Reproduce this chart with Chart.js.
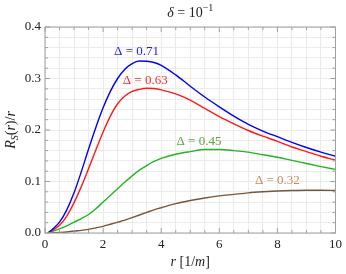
<!DOCTYPE html>
<html>
<head>
<meta charset="UTF-8">
<title>R_S(r)/r, delta = 10^-1</title>
<script src="https://cdn.jsdelivr.net/npm/chart.js"></script>
<style>
  body { margin: 0; background: #fff; }
  #wrap { width: 346px; height: 274px; }
</style>
</head>
<body>
<div id="wrap"><canvas id="chart" width="346" height="274"></canvas></div>
<script>
// r values (x axis) and one array per curve
const rValues = [0.1, 0.25, 0.5, 0.75, 1, 1.25, 1.5, 1.75, 2, 2.25, 2.5, 2.75, 3, 3.25, 3.5, 3.75,
                 4, 4.5, 5, 5.5, 6, 6.5, 7, 7.5, 8, 8.5, 9, 9.5, 10];
const delta071 = [0.000, 0.007, 0.021, 0.045, 0.078, 0.119, 0.163, 0.205, 0.243, 0.275, 0.300, 0.318, 0.329, 0.334, 0.3335, 0.331,
                  0.3255, 0.307, 0.285, 0.264, 0.245, 0.227, 0.211, 0.198, 0.187, 0.176, 0.166, 0.157, 0.149];
const delta063 = [0.000, 0.005, 0.015, 0.033, 0.059, 0.090, 0.125, 0.161, 0.196, 0.227, 0.251, 0.266, 0.275, 0.279, 0.281, 0.2805,
                  0.278, 0.270, 0.258, 0.242, 0.226, 0.212, 0.199, 0.188, 0.178, 0.167, 0.158, 0.149, 0.1415];
const delta045 = [0.000, 0.003, 0.008, 0.014, 0.021, 0.028, 0.036, 0.047, 0.060, 0.073, 0.086, 0.099, 0.111, 0.122, 0.131, 0.139,
                  0.145, 0.153, 0.158, 0.162, 0.162, 0.160, 0.157, 0.152, 0.147, 0.141, 0.135, 0.129, 0.1235];
const delta032 = [0.000, 0.0005, 0.001, 0.002, 0.004, 0.005, 0.007, 0.010, 0.013, 0.017, 0.021, 0.025, 0.030, 0.035, 0.040, 0.045,
                  0.049, 0.057, 0.063, 0.068, 0.072, 0.075, 0.078, 0.080, 0.0815, 0.0825, 0.083, 0.083, 0.0825];

const seriesNames = ['Δ = 0.71', 'Δ = 0.63', 'Δ = 0.45', 'Δ = 0.32'];
const seriesValues = [delta071, delta063, delta045, delta032];
const labelR = [3.15, 3.45, 5.3, 8.0];
const labelV = [0.352, 0.295, 0.177, 0.101];

const xTickValues = [0, 2, 4, 6, 8, 10];
const xTickLabels = ['0', '2', '4', '6', '8', '10'];
const yTickValues = [0.0, 0.1, 0.2, 0.3, 0.4];
const yTickLabels = ['0.0', '0.1', '0.2', '0.3', '0.4'];

const lineColors = ['#0000ff', '#ff1a1a', '#22b522', '#76573b'];
const textColors = ['#1a1aff', '#ff2a2a', '#58a640', '#c98b57'];
const SERIF = "'Liberation Serif', 'DejaVu Serif', serif";

function majorIndex(list, v) {
  return list.findIndex(t => Math.abs(t - v) < 1e-9);
}

function drawRich(ctx, parts, cx, cy) {
  let total = 0;
  parts.forEach(p => {
    ctx.font = (p.italic ? 'italic ' : '') + p.size + 'px ' + SERIF;
    p.w = ctx.measureText(p.t).width;
    total += p.w;
  });
  let xPos = cx - total / 2;
  parts.forEach(p => {
    ctx.font = (p.italic ? 'italic ' : '') + p.size + 'px ' + SERIF;
    ctx.fillText(p.t, xPos, cy + (p.dy || 0));
    xPos += p.w;
  });
}

const decorations = {
  id: 'decorations',
  afterDatasetsDraw(chart) {
    const { ctx, chartArea: a, scales: { x, y } } = chart;
    ctx.save();

    // frame with inner ticks
    ctx.strokeStyle = '#a0a0a0';
    ctx.lineWidth = 1;
    ctx.strokeRect(a.left, a.top, a.right - a.left, a.bottom - a.top);
    ctx.beginPath();
    x.ticks.forEach(t => {
      const px = x.getPixelForValue(t.value);
      const len = majorIndex(xTickValues, t.value) >= 0 ? 5 : 3;
      ctx.moveTo(px, a.bottom); ctx.lineTo(px, a.bottom - len);
      ctx.moveTo(px, a.top); ctx.lineTo(px, a.top + len);
    });
    y.ticks.forEach(t => {
      const py = y.getPixelForValue(t.value);
      const len = majorIndex(yTickValues, t.value) >= 0 ? 5 : 3;
      ctx.moveTo(a.left, py); ctx.lineTo(a.left + len, py);
      ctx.moveTo(a.right, py); ctx.lineTo(a.right - len, py);
    });
    ctx.stroke();

    // curve labels
    ctx.textBaseline = 'middle';
    ctx.textAlign = 'center';
    ctx.font = '13px ' + SERIF;
    seriesNames.forEach((name, k) => {
      ctx.fillStyle = textColors[k];
      ctx.fillText(name, x.getPixelForValue(labelR[k]), y.getPixelForValue(labelV[k]));
    });

    // titles
    ctx.fillStyle = '#222';
    ctx.textAlign = 'left';
    ctx.textBaseline = 'alphabetic';
    const cx = (a.left + a.right) / 2;
    drawRich(ctx, [
      { t: 'δ', italic: true, size: 14 },
      { t: ' = 10', size: 14 },
      { t: '−1', size: 10, dy: -6 }
    ], cx, 17);
    drawRich(ctx, [
      { t: 'r', italic: true, size: 14 },
      { t: ' [1/', size: 14 },
      { t: 'm', italic: true, size: 14 },
      { t: ']', size: 14 }
    ], cx, 266);
    ctx.translate(15, (a.top + a.bottom) / 2);
    ctx.rotate(-Math.PI / 2);
    drawRich(ctx, [
      { t: 'R', italic: true, size: 14 },
      { t: 'S', italic: true, size: 10, dy: 3 },
      { t: '(', size: 14 },
      { t: 'r', italic: true, size: 14 },
      { t: ')/', size: 14 },
      { t: 'r', italic: true, size: 14 }
    ], 0, 0);
    ctx.restore();
  }
};

new Chart(document.getElementById('chart'), {
  type: 'line',
  data: {
    datasets: seriesValues.map((vals, k) => ({
      label: seriesNames[k],
      data: rValues.map((r, i) => ({ x: r, y: vals[i] })),
      borderColor: lineColors[k],
      borderWidth: 1.4,
      pointRadius: 0,
      fill: false,
      cubicInterpolationMode: 'monotone'
    }))
  },
  options: {
    responsive: false,
    animation: false,
    layout: { padding: { left: 0, right: 8, top: 27, bottom: 0 } },
    plugins: { legend: { display: false }, tooltip: { enabled: false } },
    scales: {
      x: {
        type: 'linear',
        min: 0,
        max: 10,
        afterFit: s => { s.height = 41; },
        grid: { color: '#ebebeb', drawTicks: false },
        border: { display: false },
        ticks: {
          stepSize: 0.5,
          autoSkip: false,
          maxRotation: 0,
          padding: 4,
          color: '#222',
          font: { family: SERIF, size: 13 },
          callback: v => {
            const k = majorIndex(xTickValues, v);
            return k >= 0 ? xTickLabels[k] : '';
          }
        }
      },
      y: {
        min: 0,
        max: 0.4,
        afterFit: s => { s.width = 45; },
        grid: { color: '#ebebeb', drawTicks: false },
        border: { display: false },
        ticks: {
          stepSize: 0.02,
          autoSkip: false,
          padding: 4,
          color: '#222',
          font: { family: SERIF, size: 13 },
          callback: v => {
            const k = majorIndex(yTickValues, v);
            return k >= 0 ? yTickLabels[k] : '';
          }
        }
      }
    }
  },
  plugins: [decorations]
});
</script>
</body>
</html>
